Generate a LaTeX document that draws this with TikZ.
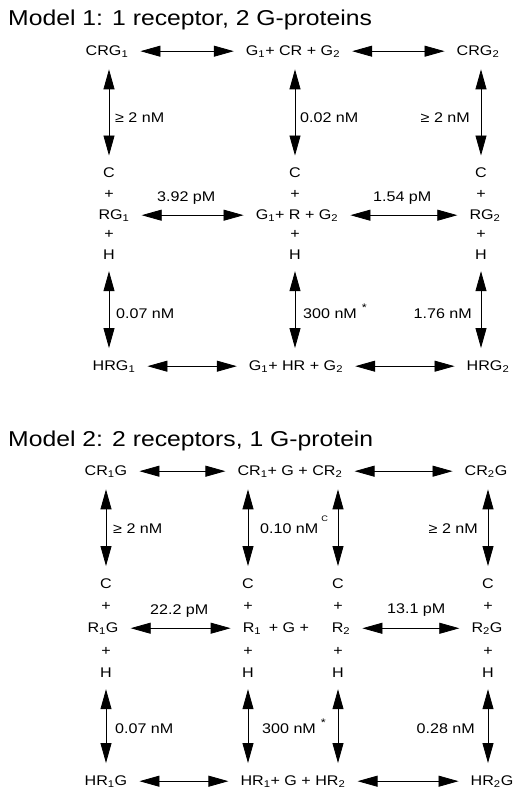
\documentclass[tikz,border=0pt]{standalone}
\usepackage{fontspec}
\setmainfont{Liberation Sans}[FakeStretch=1.15]
\usetikzlibrary{arrows.meta}
\newcommand{\sub}[1]{\textsubscript{#1}}
\newcommand{\astk}{\hspace{5pt}\raisebox{7pt}{\fontsize{11}{11}\selectfont *}}
\newcommand{\supc}{\hspace{3pt}\raisebox{12pt}{\fontsize{8}{8}\selectfont C}}

\begin{document}
\begin{tikzpicture}[
  x=1pt, y=-1pt,
  chem/.style={inner sep=0pt, anchor=base, font=\fontsize{14}{20.5}\selectfont},
  stack/.style={chem, align=center},
  rate/.style={inner sep=0pt, font=\fontsize{14}{16}\selectfont},
  title/.style={inner sep=0pt, anchor=base west, font=\fontsize{21.5}{24}\selectfont},
  dbl/.style={{Triangle[length=20pt,width=11pt]}-{Triangle[length=20pt,width=11pt]},
    line width=0.8pt, shorten <=12pt, shorten >=12pt}
]
\useasboundingbox (0,0) rectangle (525,801);

% Model 1
\node[title] (title1) at (8,25) {Model 1: 1 receptor, 2 G-proteins};

\node[chem] (crg1) at (107,55) {CRG\sub1};
\node[chem] (crg) at (293,55) {G\sub1+ CR + G\sub2};
\node[chem] (crg2) at (478,55) {CRG\sub2};

% base of a stack is its last line
\node[chem] (rg1) at (114,219) {RG\sub1};
\node[stack] (rg1c) at (109,198) {C\\+};
\node[stack] (rg1h) at (109,259) {+\\H};
\node[chem] (rg) at (297,219) {G\sub1+ R + G\sub2};
\node[stack] (rgc) at (295,198) {C\\+};
\node[stack] (rgh) at (295,259) {+\\H};
\node[chem] (rg2) at (485,219) {RG\sub2};
\node[stack] (rg2c) at (481,198) {C\\+};
\node[stack] (rg2h) at (481,259) {+\\H};

\node[chem] (hrg1) at (114,370) {HRG\sub1};
\node[chem] (hrg) at (296,370) {G\sub1+ HR + G\sub2};
\node[chem] (hrg2) at (488,370) {HRG\sub2};

\node[rate, anchor=base west] (k11) at (115,122) {≥ 2 nM};
\node[rate, anchor=base west] (k12) at (300,122) {0.02 nM};
\node[rate, anchor=base east] (k13) at (470,122) {≥ 2 nM};
\node[rate, anchor=base west] (k14) at (157,201) {3.92 pM};
\node[rate, anchor=base west] (k15) at (373,201) {1.54 pM};
\node[rate, anchor=base west] (k16) at (116,318) {0.07 nM};
\node[rate, anchor=base west] (k17) at (303,318) {300 nM\astk};
\node[rate, anchor=base east] (k18) at (472,318) {1.76 nM};

\draw[dbl] (crg1.east) -- (crg1.east -| crg.west);
\draw[dbl] (crg.east) -- (crg.east -| crg2.west);
\draw[dbl] (rg1.east) -- (rg1.east -| rg.west);
\draw[dbl] (rg.east) -- (rg.east -| rg2.west);
\draw[dbl] (hrg1.east) -- (hrg1.east -| hrg.west);
\draw[dbl] (hrg.east) -- (hrg.east -| hrg2.west);

\draw[dbl] (crg1.south -| rg1c.north) -- (rg1c.north);
\draw[dbl] (crg.south -| rgc.north) -- (rgc.north);
\draw[dbl] (crg2.south -| rg2c.north) -- (rg2c.north);
\draw[dbl] (rg1h.south) -- (rg1h.south |- hrg1.north);
\draw[dbl] (rgh.south) -- (rgh.south |- hrg.north);
\draw[dbl] (rg2h.south) -- (rg2h.south |- hrg2.north);

% Model 2
\node[title] (title2) at (8,446) {Model 2: 2 receptors, 1 G-protein};

\node[chem] (cr1g) at (106,475) {CR\sub1G};
\node[chem] (cr) at (290,475) {CR\sub1+ G + CR\sub2};
\node[chem] (cr2g) at (486,475) {CR\sub2G};

\begin{scope}[stack/.append style={font=\fontsize{14}{22}\selectfont}]
\node[chem] (r1g) at (103,632) {R\sub1G};
\node[stack] (r1gc) at (106,610) {C\\+};
\node[stack] (r1gh) at (106,677) {+\\H};
\node[chem] (r1) at (252,632) {R\sub1};
\node[stack] (r1c) at (248,610) {C\\+};
\node[stack] (r1h) at (248,677) {+\\H};
\node[chem] (g) at (289,632) {+ G +};
\node[chem] (r2) at (341,632) {R\sub2};
\node[stack] (r2c) at (338,610) {C\\+};
\node[stack] (r2h) at (338,677) {+\\H};
\node[chem] (r2g) at (487,632) {R\sub2G};
\node[stack] (r2gc) at (488,610) {C\\+};
\node[stack] (r2gh) at (488,677) {+\\H};
\end{scope}

\node[chem] (hr1g) at (106,785) {HR\sub1G};
\node[chem] (hr) at (293,785) {HR\sub1+ G + HR\sub2};
\node[chem] (hr2g) at (492,785) {HR\sub2G};

\node[rate, anchor=base west] (k21) at (113,533) {≥ 2 nM};
\node[rate, anchor=base west] (k22) at (260,533) {0.10 nM\supc};
\node[rate, anchor=base east] (k23) at (478,533) {≥ 2 nM};
\node[rate, anchor=base west] (k24) at (150,614) {22.2 pM};
\node[rate, anchor=base west] (k25) at (387,613) {13.1 pM};
\node[rate, anchor=base west] (k26) at (115,733) {0.07 nM};
\node[rate, anchor=base west] (k27) at (262,733) {300 nM\astk};
\node[rate, anchor=base east] (k28) at (475,733) {0.28 nM};

\draw[dbl] (cr1g.east) -- (cr1g.east -| cr.west);
\draw[dbl] (cr.east) -- (cr.east -| cr2g.west);
\draw[dbl] (r1g.east) -- (r1g.east -| r1.west);
\draw[dbl] (r2.east) -- (r2.east -| r2g.west);
\draw[dbl] (hr1g.east) -- (hr1g.east -| hr.west);
\draw[dbl] (hr.east) -- (hr.east -| hr2g.west);

\draw[dbl] (cr1g.south -| r1gc.north) -- (r1gc.north);
\draw[dbl] (cr.south -| r1c.north) -- (r1c.north);
\draw[dbl] (cr.south -| r2c.north) -- (r2c.north);
\draw[dbl] (cr2g.south -| r2gc.north) -- (r2gc.north);
\draw[dbl] (r1gh.south) -- (r1gh.south |- hr1g.north);
\draw[dbl] (r1h.south) -- (r1h.south |- hr.north);
\draw[dbl] (r2h.south) -- (r2h.south |- hr.north);
\draw[dbl] (r2gh.south) -- (r2gh.south |- hr2g.north);
\end{tikzpicture}
\end{document}
